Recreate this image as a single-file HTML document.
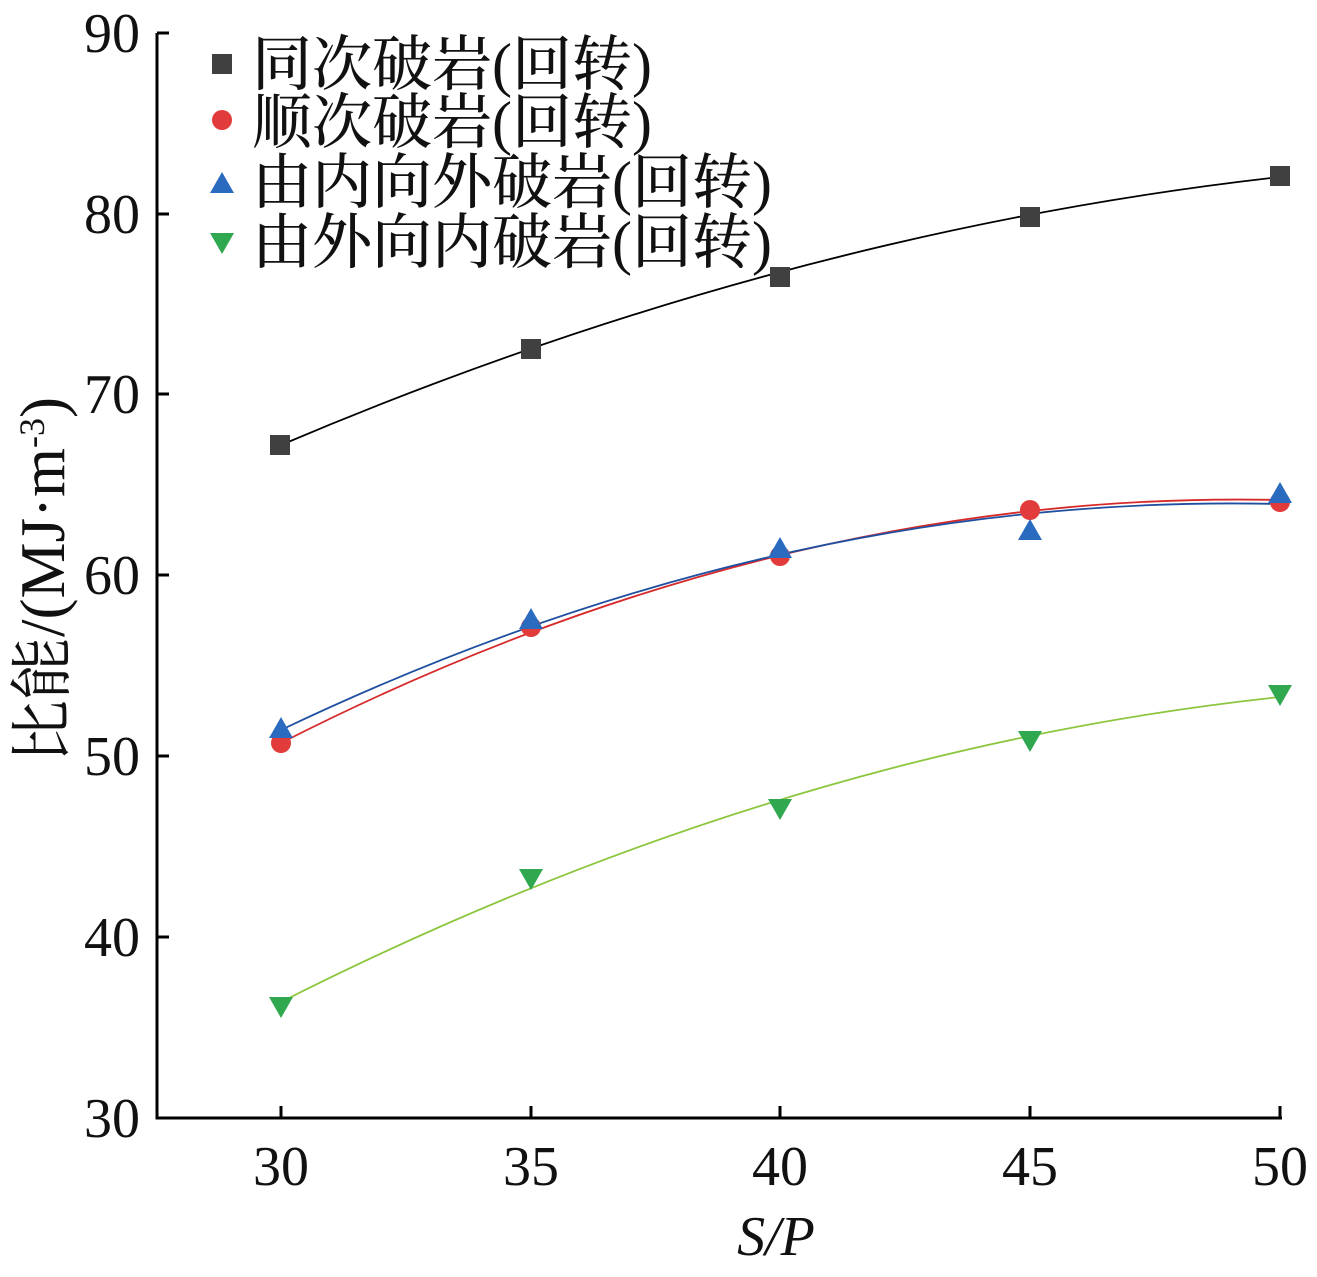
<!DOCTYPE html>
<html><head><meta charset="utf-8"><style>
body{margin:0;background:#fff}
svg text{font-family:"Liberation Serif","Noto Serif CJK SC",serif;fill:#111}
</style></head><body>
<svg width="1317" height="1272" viewBox="0 0 1317 1272" xmlns="http://www.w3.org/2000/svg">
<g stroke="#000" stroke-width="3" fill="none">
<path d="M157,33 V1118 H1282"/>
<path d="M157,33h12M157,214h12M157,394h12M157,575h12M157,756h12M157,937h12"/>
<path d="M281,1118v-12M531,1118v-12M780,1118v-12M1030,1118v-12M1280,1118v-12"/>
</g>
<g font-size="56" text-anchor="end">
<text x="140" y="52">90</text><text x="140" y="233">80</text><text x="140" y="413">70</text>
<text x="140" y="594">60</text><text x="140" y="775">50</text><text x="140" y="956">40</text>
<text x="140" y="1137">30</text></g>
<g font-size="56" text-anchor="middle">
<text x="281" y="1185">30</text><text x="531" y="1185">35</text><text x="780" y="1185">40</text>
<text x="1030" y="1185">45</text><text x="1280" y="1185">50</text></g>
<text x="776" y="1255" font-size="56" font-style="italic" text-anchor="middle">S/P</text>
<text transform="translate(64,580) rotate(-90)" font-size="63" text-anchor="middle">比能/(MJ·m<tspan dy="-20" font-size="36">-3</tspan><tspan dy="20">)</tspan></text>
<g fill="none" stroke-width="1.8">
<path d="M281,445 Q780,233 1280,177" stroke="#000"/>
<path d="M281,743 Q780,489 1280,500" stroke="#d62a2a"/>
<path d="M281,730 Q780,492 1280,504" stroke="#1f4fa0"/>
<path d="M281,1002 Q780,750 1280,697" stroke="#8cc63f"/>
</g>
<g fill="#404040">
<rect x="270" y="435" width="20" height="20"/><rect x="521" y="339" width="20" height="20"/>
<rect x="770" y="267" width="20" height="20"/><rect x="1020" y="207" width="20" height="20"/>
<rect x="1270" y="166" width="20" height="20"/><rect x="212" y="54" width="20" height="20"/></g>
<g fill="#e23b3b">
<circle cx="281" cy="743" r="10"/><circle cx="531" cy="627" r="10"/><circle cx="780" cy="556" r="10"/>
<circle cx="1030" cy="510" r="10"/><circle cx="1280" cy="502" r="10"/><circle cx="222" cy="120" r="10"/></g>
<g fill="#2a6bc0">
<path d="M281,717l12,21h-24z"/><path d="M531,608l12,21h-24z"/><path d="M780,537l12,21h-24z"/>
<path d="M1030,519l12,21h-24z"/><path d="M1280,482l12,21h-24z"/><path d="M222,172l12,21h-24z"/></g>
<g fill="#2fa84f">
<path d="M281,1018l12,-21h-24z"/><path d="M531,890l12,-21h-24z"/><path d="M780,820l12,-21h-24z"/>
<path d="M1030,752l12,-21h-24z"/><path d="M1280,706l12,-21h-24z"/><path d="M222,254l12,-21h-24z"/></g>
<g font-size="60" font-weight="500">
<text x="252" y="85">同次破岩(回转)</text>
<text x="252" y="143">顺次破岩(回转)</text>
<text x="252" y="203">由内向外破岩(回转)</text>
<text x="252" y="263">由外向内破岩(回转)</text></g>
</svg>
</body></html>
